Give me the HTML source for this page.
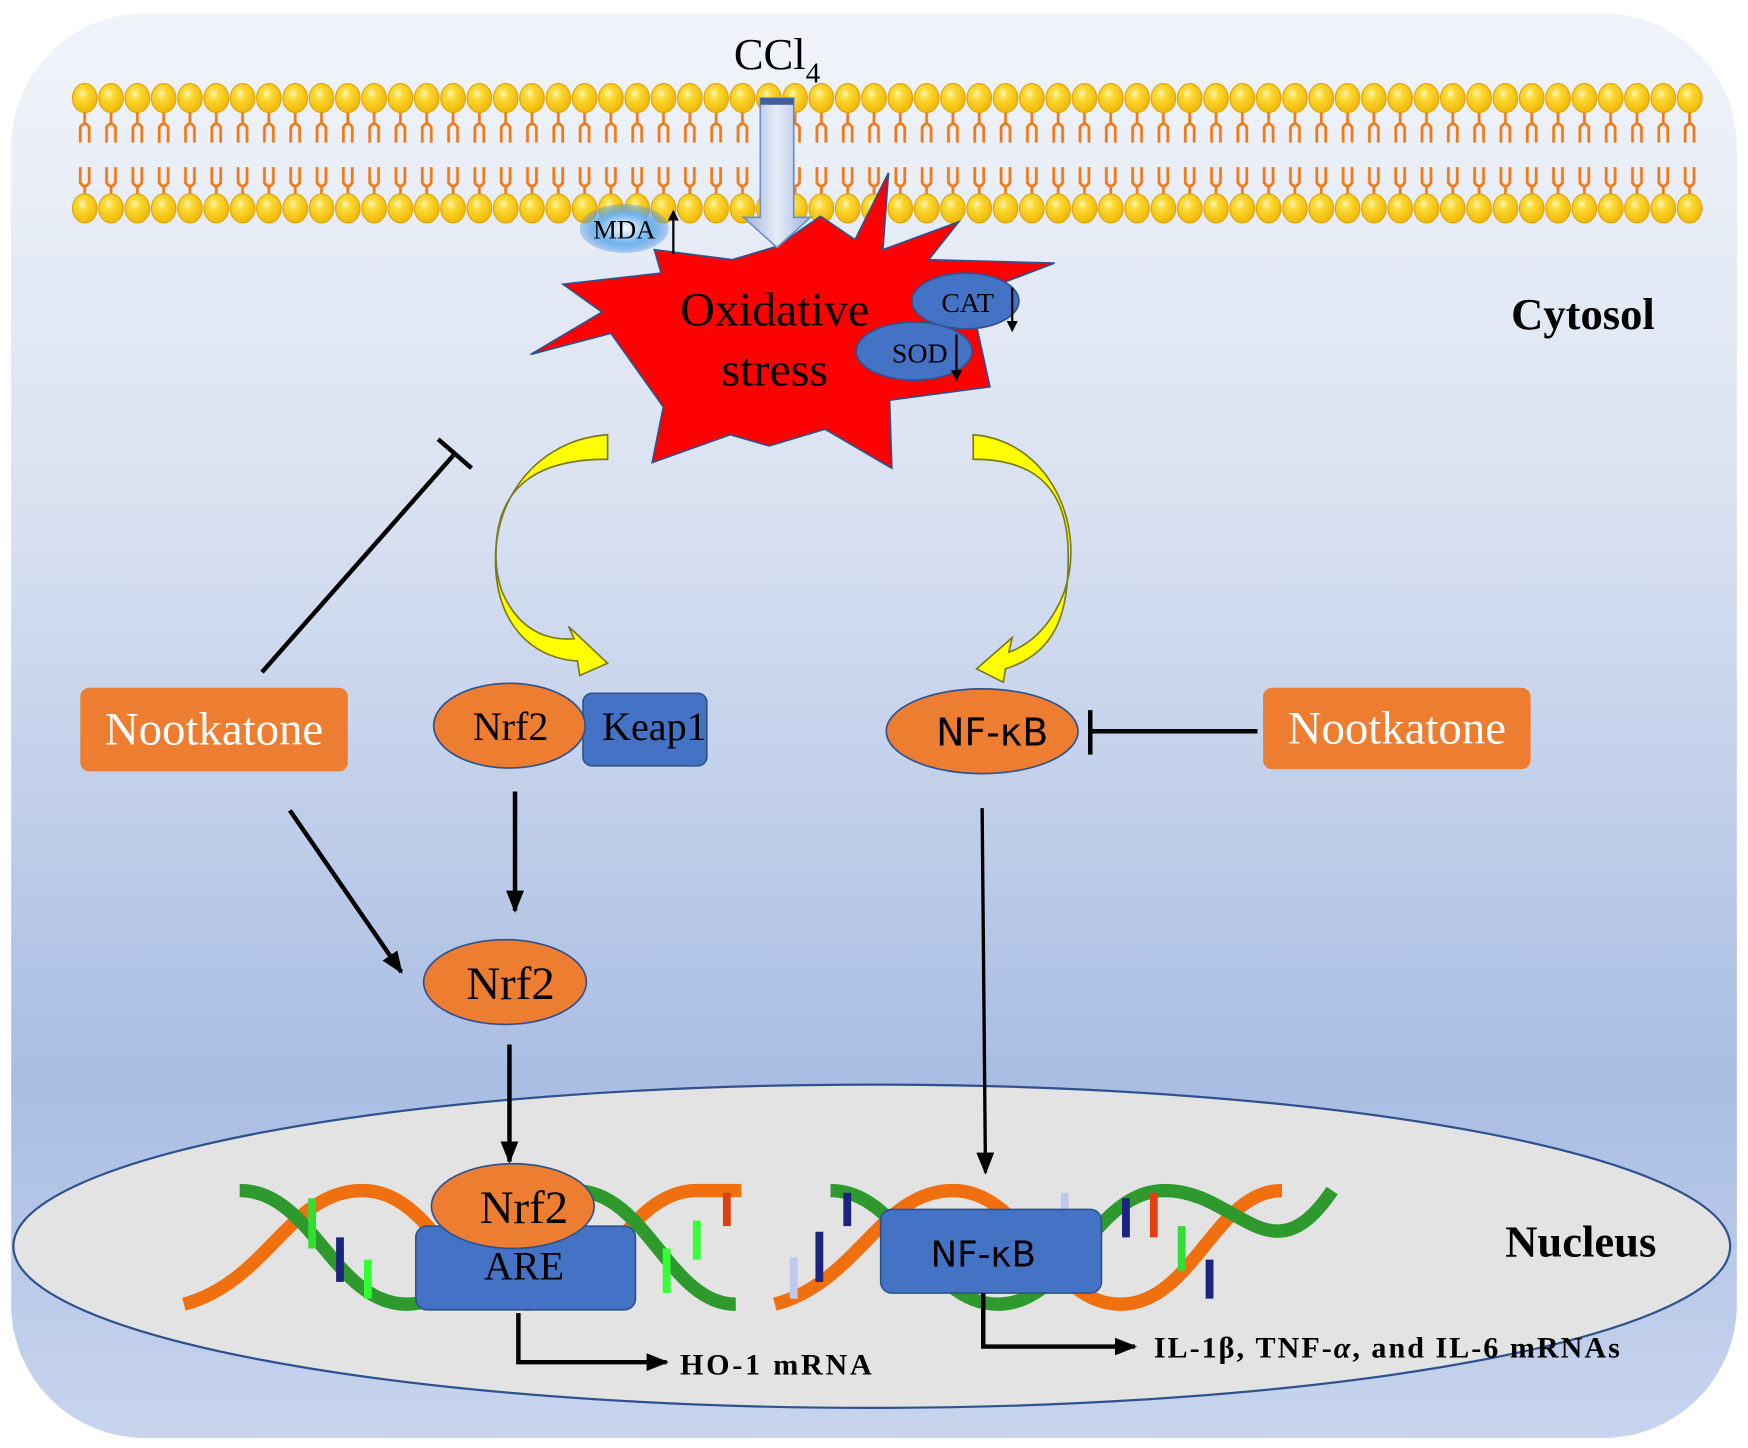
<!DOCTYPE html>
<html><head><meta charset="utf-8"><style>html,body{margin:0;padding:0;background:#fff}svg{display:block}</style></head>
<body>
<svg width="1748" height="1448" viewBox="0 0 1568 1299" preserveAspectRatio="none" xmlns="http://www.w3.org/2000/svg">
<defs>
<linearGradient id="bg" x1="0" y1="0" x2="0" y2="1">
<stop offset="0" stop-color="#f1f4fa"/><stop offset="0.35" stop-color="#d9e1f1"/><stop offset="0.75" stop-color="#a9bde3"/><stop offset="1" stop-color="#c9d5ee"/></linearGradient>
<radialGradient id="head" cx="0.4" cy="0.35" r="0.7"><stop offset="0" stop-color="#fff6b0"/><stop offset="0.3" stop-color="#fbd935"/><stop offset="1" stop-color="#f0b400"/></radialGradient>
<linearGradient id="ar" x1="0" y1="0" x2="1" y2="0"><stop offset="0" stop-color="#9eb3dc"/><stop offset="0.5" stop-color="#e6ecf8"/><stop offset="1" stop-color="#9eb3dc"/></linearGradient>
<radialGradient id="mda" cx="0.5" cy="0.5" r="0.5"><stop offset="0" stop-color="#ffffff"/><stop offset="0.6" stop-color="#6fb4ee"/><stop offset="1" stop-color="#3f8be0" stop-opacity="0.3"/></radialGradient>
<pattern id="mem" x="64.2" y="70" width="23.6" height="135" patternUnits="userSpaceOnUse">
<path d="M11.8,30 v10 M7.8,58 v-14 q4,-6 8,0 v14 M11.8,108 v-12 M7.8,80 v14 q4,6 8,0 v-14" stroke="#f07a18" stroke-width="2.5" fill="none"/>
<ellipse cx="11.8" cy="18" rx="11" ry="13" fill="url(#head)" stroke="#e0a000" stroke-width="1"/>
<ellipse cx="11.8" cy="117" rx="11" ry="13" fill="url(#head)" stroke="#e0a000" stroke-width="1"/>
</pattern>
<marker id="ah" markerWidth="10" markerHeight="10" refX="8" refY="5" orient="auto" markerUnits="userSpaceOnUse"><path d="M0,0 L10,5 L0,10 z" fill="#000"/></marker>
<marker id="ah2" markerWidth="20" markerHeight="16" refX="18" refY="8" orient="auto" markerUnits="userSpaceOnUse"><path d="M0,0 L20,8 L0,16 z" fill="#000"/></marker>
</defs>
<rect x="10" y="12" width="1548" height="1278" rx="120" fill="url(#bg)"/>
<rect x="64" y="70" width="1464" height="135" fill="url(#mem)"/>
<text x="697" y="62" font-family="Liberation Serif,serif" font-size="40" text-anchor="middle">CCl<tspan font-size="26" dy="12">4</tspan></text>
<polygon points="587,224 657,233 697,221 736,194 767,215 797,155 792,224 860,199 833,233 946,236 870,265 888,347 798,359 800,420 740,385 690,400 655,390 585,415 595,365 548,299 476,318 540,280 505,255 593,245" fill="#ff0000" stroke="#2f528f" stroke-width="1.5"/>
<polygon points="682,88 712,88 712,195 727,195 697,222 667,195 682,195" fill="url(#ar)" stroke="#6f8fc8" stroke-width="1.5"/>
<rect x="682" y="88" width="30" height="6" fill="#3f5f9f"/>
<ellipse cx="560" cy="205" rx="40" ry="22" fill="url(#mda)"/>
<text x="560" y="214" font-family="Liberation Serif,serif" font-size="24" text-anchor="middle">MDA</text>
<line x1="604" y1="228" x2="604" y2="190" stroke="#000" stroke-width="2" marker-end="url(#ah)"/>
<text x="695" y="292" font-family="Liberation Serif,serif" font-size="43" text-anchor="middle">Oxidative</text>
<text x="695" y="346" font-family="Liberation Serif,serif" font-size="43" text-anchor="middle">stress</text>
<ellipse cx="866" cy="270" rx="48" ry="25" fill="#4472c4" stroke="#2f528f" stroke-width="1.5"/>
<text x="868" y="280" font-family="Liberation Serif,serif" font-size="25" text-anchor="middle">CAT</text>
<line x1="908" y1="258" x2="908" y2="296" stroke="#000" stroke-width="2" marker-end="url(#ah)"/>
<ellipse cx="820" cy="315" rx="52" ry="26" fill="#4472c4" stroke="#2f528f" stroke-width="1.5"/>
<text x="825" y="325" font-family="Liberation Serif,serif" font-size="25" text-anchor="middle">SOD</text>
<line x1="858" y1="300" x2="858" y2="340" stroke="#000" stroke-width="2" marker-end="url(#ah)"/>
<text x="1420" y="295" font-family="Liberation Serif,serif" font-size="40" font-weight="bold" text-anchor="middle">Cytosol</text>
<path d="M545,390 C470,395 430,470 450,530 C465,565 490,575 515,573 L510,562 L545,595 L520,606 L518,593 C470,590 440,550 445,490 C448,430 490,412 545,412 Z" fill="#ffff00" stroke="#7a7a20" stroke-width="1.5"/>
<path d="M873,390 C940,395 975,470 955,530 C942,565 920,580 905,585 L908,572 L876,600 L900,612 L902,600 C950,585 960,545 958,490 C955,430 920,412 873,412 Z" fill="#ffff00" stroke="#7a7a20" stroke-width="1.5"/>
<rect x="72" y="617" width="240" height="75" rx="8" fill="#ed7d31"/>
<text x="192" y="668" font-family="Liberation Serif,serif" font-size="42" fill="#fff" text-anchor="middle">Nootkatone</text>
<rect x="1133" y="617" width="240" height="73" rx="8" fill="#ed7d31"/>
<text x="1253" y="667" font-family="Liberation Serif,serif" font-size="42" fill="#fff" text-anchor="middle">Nootkatone</text>
<rect x="523" y="622" width="111" height="65" rx="8" fill="#4472c4" stroke="#2f528f" stroke-width="1.5"/>
<text x="587" y="664" font-family="Liberation Serif,serif" font-size="36" text-anchor="middle">Keap1</text>
<ellipse cx="457" cy="651" rx="68" ry="38" fill="#ed7d31" stroke="#2f528f" stroke-width="1.5"/>
<text x="458" y="664" font-family="Liberation Serif,serif" font-size="36" text-anchor="middle">Nrf2</text>
<ellipse cx="881" cy="656" rx="86" ry="38" fill="#ed7d31" stroke="#2f528f" stroke-width="1.5"/>
<text x="890" y="669" font-family="DejaVu Sans,sans-serif" font-size="34" text-anchor="middle">NF-κB</text>
<line x1="1128" y1="656" x2="978" y2="656" stroke="#000" stroke-width="4"/>
<line x1="978" y1="637" x2="978" y2="677" stroke="#000" stroke-width="4"/>
<line x1="235" y1="603" x2="408" y2="407" stroke="#000" stroke-width="4"/>
<line x1="393" y1="394" x2="423" y2="420" stroke="#000" stroke-width="4"/>
<line x1="260" y1="727" x2="360" y2="872" stroke="#000" stroke-width="4" marker-end="url(#ah2)"/>
<line x1="462" y1="710" x2="462" y2="817" stroke="#000" stroke-width="4" marker-end="url(#ah2)"/>
<ellipse cx="453" cy="881" rx="73" ry="38" fill="#ed7d31" stroke="#2f528f" stroke-width="1.5"/>
<text x="458" y="896" font-family="Liberation Serif,serif" font-size="42" text-anchor="middle">Nrf2</text>
<ellipse cx="782" cy="1118" rx="770" ry="145" fill="#e3e3e3" stroke="#2f528f" stroke-width="2"/>
<line x1="457" y1="937" x2="457" y2="1042" stroke="#000" stroke-width="4" marker-end="url(#ah2)"/>
<line x1="881" y1="725" x2="884" y2="1052" stroke="#000" stroke-width="3" marker-end="url(#ah2)"/>
<text x="1418" y="1127" font-family="Liberation Serif,serif" font-size="40" font-weight="bold" text-anchor="middle">Nucleus</text>
<g stroke-width="12" fill="none">
<path d="M165,1170 C240,1150 260,1068 325,1068 C390,1068 410,1170 475,1170 C540,1170 560,1068 625,1068 L665,1068" stroke="#f07010"/>
<path d="M215,1068 C280,1068 300,1170 365,1170 C430,1170 450,1068 515,1068 C580,1068 600,1170 660,1170" stroke="#2e9a2e"/>
<path d="M695,1170 C770,1150 790,1068 855,1068 C920,1068 940,1170 1005,1170 C1070,1170 1090,1068 1150,1068" stroke="#f07010"/>
<path d="M745,1068 C810,1068 830,1170 895,1170 C960,1170 980,1068 1045,1068 C1110,1068 1140,1150 1195,1068" stroke="#2e9a2e"/>
</g>
<g stroke-width="7">
<line x1="280" y1="1075" x2="280" y2="1120" stroke="#33dd33"/><line x1="305" y1="1110" x2="305" y2="1150" stroke="#1a237e"/>
<line x1="330" y1="1130" x2="330" y2="1165" stroke="#33ff33"/><line x1="598" y1="1120" x2="598" y2="1160" stroke="#33ff33"/>
<line x1="625" y1="1095" x2="625" y2="1130" stroke="#33ff33"/><line x1="652" y1="1070" x2="652" y2="1100" stroke="#e04010"/>
<line x1="735" y1="1105" x2="735" y2="1150" stroke="#1a237e"/><line x1="712" y1="1128" x2="712" y2="1165" stroke="#c0c8f0"/>
<line x1="760" y1="1070" x2="760" y2="1100" stroke="#1a237e"/><line x1="955" y1="1070" x2="955" y2="1100" stroke="#c0c8f0"/>
<line x1="1010" y1="1075" x2="1010" y2="1110" stroke="#1a237e"/><line x1="1035" y1="1070" x2="1035" y2="1110" stroke="#e04010"/>
<line x1="1060" y1="1100" x2="1060" y2="1140" stroke="#33dd33"/><line x1="1085" y1="1130" x2="1085" y2="1165" stroke="#1a237e"/>
</g>
<rect x="373" y="1100" width="197" height="75" rx="10" fill="#4472c4" stroke="#2f528f" stroke-width="1.5"/>
<text x="470" y="1148" font-family="Liberation Serif,serif" font-size="36" text-anchor="middle">ARE</text>
<ellipse cx="460" cy="1082" rx="73" ry="38" fill="#ed7d31" stroke="#2f528f" stroke-width="1.5"/>
<text x="470" y="1097" font-family="Liberation Serif,serif" font-size="42" text-anchor="middle">Nrf2</text>
<rect x="790" y="1085" width="198" height="75" rx="10" fill="#4472c4" stroke="#2f528f" stroke-width="1.5"/>
<text x="882" y="1136" font-family="DejaVu Sans,sans-serif" font-size="32" text-anchor="middle">NF-κB</text>
<path d="M465,1178 V1222 H598" stroke="#000" stroke-width="4" fill="none" marker-end="url(#ah2)"/>
<text x="610" y="1233" font-family="Liberation Serif,serif" font-size="27" font-weight="bold" textLength="172">HO-1 mRNA</text>
<path d="M882,1160 V1208 H1018" stroke="#000" stroke-width="4" fill="none" marker-end="url(#ah2)"/>
<text x="1035" y="1218" font-family="Liberation Serif,serif" font-size="27" font-weight="bold" textLength="418">IL-1β, TNF-<tspan font-style="italic">α</tspan>, and IL-6 mRNAs</text>
</svg>
</body></html>
